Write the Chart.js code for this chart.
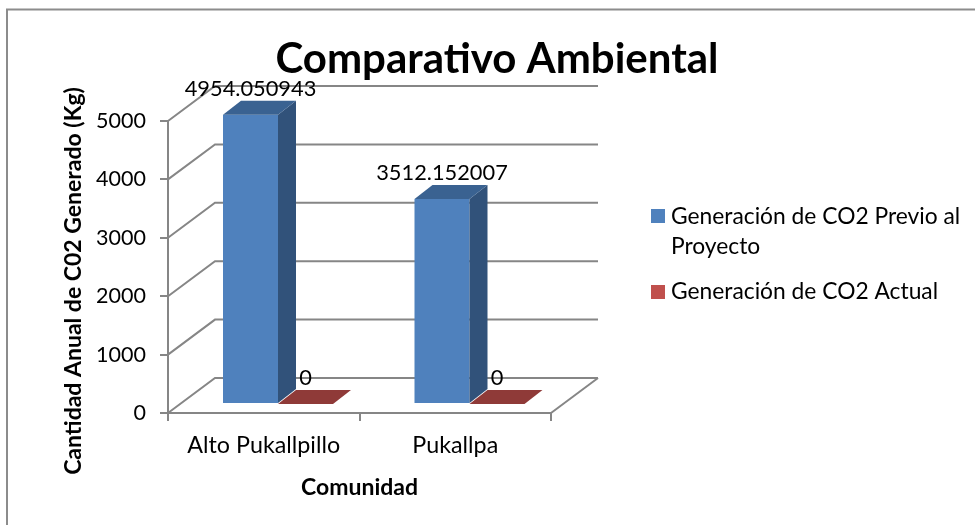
<!DOCTYPE html>
<html>
<head>
<meta charset="utf-8">
<style>html,body{margin:0;padding:0;background:#fff}#wrap{position:absolute;left:0;top:0;width:975px;height:525px}</style>
<script src="https://cdn.jsdelivr.net/npm/chart.js@4"></script>
</head>
<body>
<div id="wrap"><canvas id="c" width="975" height="525"></canvas></div>
<script>
const chartTitle = "Comparativo Ambiental";
const xAxisTitle = "Comunidad";
const yAxisTitle = "Cantidad Anual de C02 Generado (Kg)";
const categories = ["Alto Pukallpillo", "Pukallpa"];
const seriesPrevio = [4954.050943, 3512.152007];
const seriesActual = [0, 0];
const valueLabelsPrevio = ["4954.050943", "3512.152007"];
const valueLabelsActual = ["0", "0"];
const legendPrevio = ["Generación de CO2 Previo al", "Proyecto"];
const legendActual = ["Generación de CO2 Actual"];

const FONT = "Lato, Carlito, Calibri, sans-serif";
const GRID = "#868686";
const WALL = {dx: 47, dy: -35};      // depth of the 3D box
const BAR = {dx: 18, dy: -14, ox: 14.25, oy: -9}; // depth of columns, their shift into the box

const shades = [
  {front: "#4F81BD", side: "#31527A", top: "#3A6291"},
  {front: "#C0504D", side: "#7A2F2D", top: "#8F3A38"}
];

function line(ctx, pts, color, w) {
  ctx.beginPath();
  pts.forEach((p, i) => i ? ctx.lineTo(p[0], p[1]) : ctx.moveTo(p[0], p[1]));
  ctx.strokeStyle = color; ctx.lineWidth = w; ctx.stroke();
}
function poly(ctx, pts, color) {
  ctx.beginPath();
  pts.forEach((p, i) => i ? ctx.lineTo(p[0], p[1]) : ctx.moveTo(p[0], p[1]));
  ctx.closePath(); ctx.fillStyle = color; ctx.fill();
}
function text(ctx, s, x, y, font, align) {
  ctx.font = font; ctx.fillStyle = "#000"; ctx.textAlign = align || "center"; ctx.textBaseline = "middle";
  ctx.fillText(s, x, y);
}

const box3d = {
  id: "box3d",
  beforeDraw(chart) {
    const ctx = chart.ctx;
    ctx.save();
    line(ctx, [[7, 525], [7, 9.5], [975, 9.5]], "#8C8C8C", 2);
    ctx.restore();
  },
  beforeDatasetsDraw(chart) {
    const ctx = chart.ctx, {left, right} = chart.chartArea, y = chart.scales.y;
    ctx.save();
    y.ticks.forEach(t => {
      const py = y.getPixelForValue(t.value);
      line(ctx, [[left, py], [left + WALL.dx, py + WALL.dy], [right + WALL.dx, py + WALL.dy]], GRID, 2);
    });
    const base = y.getPixelForValue(0);
    line(ctx, [[right, base], [right + WALL.dx, base + WALL.dy]], GRID, 2);
    ctx.restore();
  },
  beforeDatasetDraw(chart) {
    chart.ctx.save();
    chart.ctx.translate(BAR.ox, BAR.oy);
  },
  afterDatasetDraw(chart, args) {
    const ctx = chart.ctx, c = shades[args.index];
    args.meta.data.forEach(el => {
      const l = el.x - el.width / 2, r = el.x + el.width / 2, t = el.y, b = el.base;
      if (b - t > 0.5) {
        poly(ctx, [[r, t], [r + BAR.dx, t + BAR.dy], [r + BAR.dx, b + BAR.dy], [r, b]], c.side);
      }
      poly(ctx, [[l, t], [r, t], [r + BAR.dx, t + BAR.dy], [l + BAR.dx, t + BAR.dy]], c.top);
    });
    ctx.restore();
  },
  afterDatasetsDraw(chart) {
    const ctx = chart.ctx;
    ctx.save();
    const labelFont = "21.8px " + FONT;
    [valueLabelsPrevio, valueLabelsActual].forEach((labels, di) => {
      chart.getDatasetMeta(di).data.forEach((el, i) => {
        text(ctx, labels[i], el.x + BAR.ox, el.y + BAR.oy - 26, labelFont);
      });
    });
    text(ctx, chartTitle, 497, 59, "bold 42px " + FONT);

    ctx.save();
    ctx.translate(74, 281);
    ctx.rotate(-Math.PI / 2);
    text(ctx, yAxisTitle, 0, 0, "bold 23px " + FONT);
    ctx.restore();

    // legend
    const items = [
      {lines: legendPrevio, color: shades[0].front, box: 209, ys: [217, 247]},
      {lines: legendActual, color: shades[1].front, box: 285, ys: [292]}
    ];
    items.forEach(it => {
      ctx.fillStyle = it.color;
      ctx.fillRect(651, it.box, 14, 14);
      it.lines.forEach((s, k) => text(ctx, s, 671, it.ys[k], "22.8px " + FONT, "left"));
    });
    ctx.restore();
  }
};

new Chart(document.getElementById("c"), {
  type: "bar",
  data: {
    labels: categories,
    datasets: [
      {label: legendPrevio.join(" "), data: seriesPrevio, backgroundColor: shades[0].front, clip: false},
      {label: legendActual.join(" "), data: seriesActual, backgroundColor: shades[1].front, clip: false}
    ]
  },
  options: {
    responsive: false,
    animation: false,
    layout: {padding: {left: 68, right: 424, top: 121, bottom: 24}},
    plugins: {legend: {display: false}, title: {display: false}, tooltip: {enabled: false}},
    datasets: {bar: {categoryPercentage: 0.5744, barPercentage: 1}},
    scales: {
      x: {
        afterFit(s) { s.height = 88; },
        border: {color: GRID, width: 2},
        grid: {drawOnChartArea: false, drawTicks: true, tickLength: 8, color: GRID, lineWidth: 2},
        ticks: {color: "#000", font: {family: FONT, size: 23.3}, padding: 10, maxRotation: 0},
        title: {display: true, text: xAxisTitle, color: "#000", font: {family: FONT, size: 23, weight: "bold"}, padding: {top: 5, bottom: 0}}
      },
      y: {
        min: 0, max: 5000,
        afterFit(s) { s.width = 100; },
        border: {color: GRID, width: 2},
        grid: {drawOnChartArea: false, drawTicks: true, tickLength: 8, color: GRID, lineWidth: 2},
        ticks: {color: "#000", font: {family: FONT, size: 21.5}, padding: 14, stepSize: 1000, callback: v => String(v)}
      }
    }
  },
  plugins: [box3d]
});
</script>
</body>
</html>
